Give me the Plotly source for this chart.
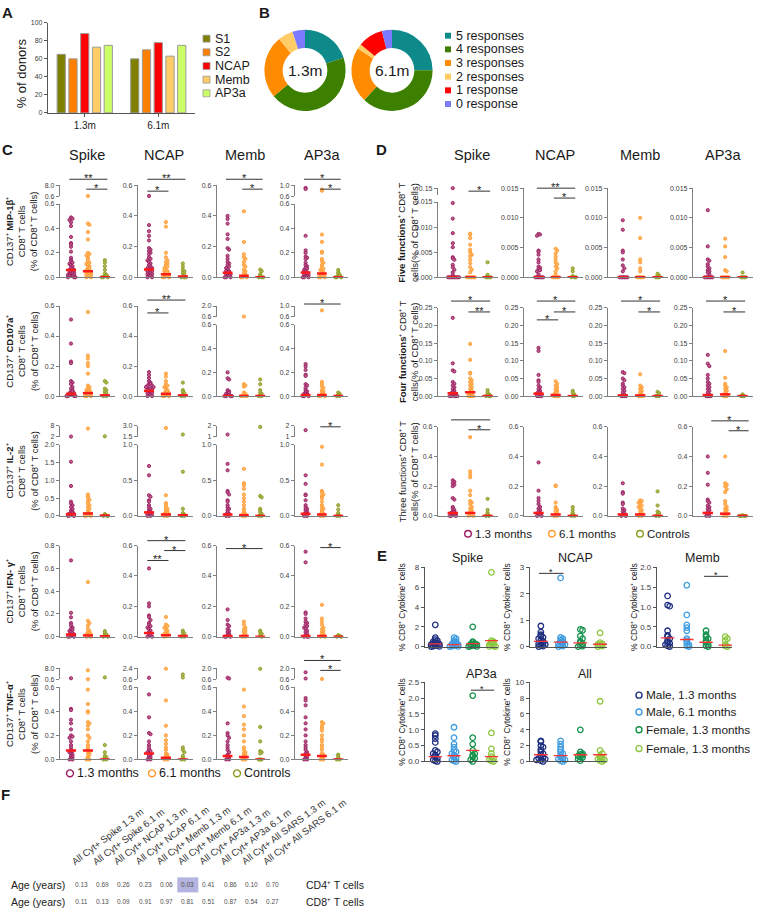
import plotly.graph_objects as go

W, H = 763, 915
FONT = "Liberation Sans, Arial, Helvetica, sans-serif"


def fx(p):
    return p / W


def fy(p):
    return 1 - p / H

# ======================= DATA =======================
# ---- Panel A: % of donors responding ----
A_TIMEPOINTS = ["1.3m", "6.1m"]
A_SERIES = ["S1", "S2", "NCAP", "Memb", "AP3a"]
A_S1 = [65, 60]
A_S2 = [60, 70]
A_NCAP = [88, 78]
A_MEMB = [73, 63]
A_AP3A = [75, 75]
A_COLORS = ["#808000", "#ff8000", "#ff0000", "#ffcc66", "#ccff66"]

# ---- Panel B: number of responses ----
B_LABELS = ["5 responses", "4 responses", "3 responses", "2 responses", "1 response", "0 response"]
B_13M = [20, 44, 25, 6, 0, 5]
B_61M = [25, 37, 22, 2, 10, 4]
B_COLORS = ["#0e8a8a", "#3d8000", "#ff8c00", "#ffcc66", "#ff0000", "#7b7bff"]
B_NAMES = ["1.3m", "6.1m"]

# ---- Panel C ----
C_ANTIGENS = ["Spike", "NCAP", "Memb", "AP3a"]
C_GROUPS = ["1.3 months", "6.1 months", "Controls"]
C_COLORS = ["#9b1b5e", "#ff9a2e", "#8c9a1c"]
C_ROW_TITLES = [
    "CD137⁺ <b>MIP-1β</b>⁺<br>CD8⁺ T cells<br>(% of CD8⁺ T cells)",
    "CD137⁺ <b>CD107a</b>⁺<br>CD8⁺ T cells<br>(% of CD8⁺ T cells)",
    "CD137⁺ <b>IL-2</b>⁺<br>CD8⁺ T cells<br>(% of CD8⁺ T cells)",
    "CD137⁺ <b>IFN- γ</b>⁺<br>CD8⁺ T cells<br>(% of CD8⁺ T cells)",
    "CD137⁺ <b>TNF-α</b>⁺<br>CD8⁺ T cells<br>(% of CD8⁺ T cells)",
]

# Row 1: MIP-1b
C1_SPIKE = [[0.49, 0.48, 0.47, 0.45, 0.42, 0.33, 0.28, 0.27, 0.25, 0.21, 0.16, 0.14, 0.13, 0.12, 0.11, 0.1, 0.09, 0.08, 0.07, 0.06, 0.06, 0.05, 0.05, 0.04, 0.04, 0.03, 0.03, 0.02, 0.02, 0.02, 0.01, 0.01, 0.01, 0.0, 0.0, 0.0],
            [0.7, 0.44, 0.43, 0.37, 0.31, 0.2, 0.19, 0.18, 0.16, 0.15, 0.13, 0.12, 0.11, 0.1, 0.09, 0.08, 0.07, 0.06, 0.05, 0.05, 0.04, 0.04, 0.03, 0.03, 0.02, 0.02, 0.01, 0.01, 0.0, 0.0],
            [0.14, 0.12, 0.09, 0.06, 0.03, 0.02, 0.01, 0.01, 0.0, 0.0, 0.0]]
C1_NCAP = [[0.53, 0.34, 0.3, 0.27, 0.24, 0.19, 0.18, 0.17, 0.16, 0.15, 0.13, 0.12, 0.11, 0.1, 0.09, 0.08, 0.07, 0.06, 0.06, 0.05, 0.05, 0.04, 0.04, 0.03, 0.03, 0.02, 0.02, 0.01, 0.01, 0.0, 0.0],
           [0.36, 0.33, 0.16, 0.13, 0.11, 0.1, 0.09, 0.08, 0.07, 0.06, 0.05, 0.04, 0.04, 0.03, 0.03, 0.02, 0.02, 0.01, 0.01, 0.0, 0.0, 0.0],
           [0.09, 0.07, 0.05, 0.04, 0.03, 0.02, 0.01, 0.0, 0.0, 0.0]]
C1_MEMB = [[0.4, 0.38, 0.35, 0.28, 0.25, 0.19, 0.18, 0.14, 0.12, 0.1, 0.09, 0.08, 0.07, 0.06, 0.05, 0.04, 0.04, 0.03, 0.03, 0.02, 0.02, 0.01, 0.01, 0.0, 0.0, 0.0],
           [0.43, 0.23, 0.15, 0.13, 0.12, 0.1, 0.08, 0.07, 0.05, 0.04, 0.03, 0.02, 0.01, 0.01, 0.0, 0.0, 0.0],
           [0.05, 0.04, 0.02, 0.01, 0.0, 0.0, 0.0]]
C1_AP3A = [[0.9, 0.86, 0.34, 0.22, 0.2, 0.17, 0.16, 0.15, 0.12, 0.1, 0.09, 0.08, 0.07, 0.06, 0.05, 0.04, 0.04, 0.03, 0.03, 0.02, 0.02, 0.01, 0.01, 0.0, 0.0, 0.0],
           [0.84, 0.8, 0.35, 0.29, 0.21, 0.2, 0.15, 0.13, 0.12, 0.1, 0.08, 0.07, 0.06, 0.05, 0.04, 0.03, 0.02, 0.02, 0.01, 0.01, 0.0, 0.0, 0.0],
           [0.06, 0.04, 0.03, 0.02, 0.01, 0.01, 0.0, 0.0, 0.0]]
C1_MED = [[0.06, 0.05, 0.0], [0.05, 0.02, 0.005], [0.03, 0.01, 0.0], [0.04, 0.03, 0.0]]

# Row 2: CD107a
C2_SPIKE = [[0.51, 0.35, 0.23, 0.22, 0.1, 0.09, 0.08, 0.06, 0.05, 0.04, 0.03, 0.03, 0.02, 0.02, 0.01, 0.01, 0.01, 0.0, 0.0, 0.0, 0.0],
            [0.56, 0.27, 0.25, 0.22, 0.2, 0.15, 0.07, 0.06, 0.05, 0.04, 0.04, 0.03, 0.03, 0.02, 0.02, 0.01, 0.01, 0.0, 0.0, 0.0],
            [0.1, 0.09, 0.05, 0.04, 0.03, 0.02, 0.01, 0.0, 0.0]]
C2_NCAP = [[0.16, 0.14, 0.12, 0.1, 0.09, 0.08, 0.08, 0.07, 0.07, 0.06, 0.06, 0.05, 0.05, 0.04, 0.04, 0.03, 0.03, 0.02, 0.02, 0.01, 0.01, 0.0, 0.0],
           [0.15, 0.13, 0.1, 0.08, 0.07, 0.06, 0.05, 0.04, 0.03, 0.03, 0.02, 0.02, 0.01, 0.01, 0.0, 0.0, 0.0],
           [0.09, 0.04, 0.03, 0.02, 0.01, 0.0, 0.0]]
C2_MEMB = [[0.2, 0.15, 0.14, 0.05, 0.04, 0.03, 0.03, 0.02, 0.01, 0.01, 0.0, 0.0, 0.0, 0.0],
           [0.65, 0.1, 0.09, 0.08, 0.03, 0.02, 0.01, 0.0, 0.0, 0.0, 0.0],
           [0.14, 0.1, 0.05, 0.03, 0.02, 0.01, 0.0, 0.0]]
C2_AP3A = [[0.27, 0.25, 0.22, 0.18, 0.17, 0.1, 0.09, 0.07, 0.05, 0.04, 0.03, 0.02, 0.02, 0.01, 0.01, 0.0, 0.0, 0.0],
           [0.84, 0.12, 0.1, 0.08, 0.07, 0.05, 0.04, 0.03, 0.02, 0.01, 0.01, 0.0, 0.0, 0.0],
           [0.03, 0.02, 0.01, 0.0, 0.0]]
C2_MED = [[0.015, 0.02, 0.005], [0.035, 0.015, 0.005], [0.0, 0.0, 0.0], [0.01, 0.01, 0.0]]

# Row 3: IL-2
C3_SPIKE = [[2.1, 1.52, 0.84, 0.4, 0.35, 0.3, 0.25, 0.2, 0.15, 0.12, 0.1, 0.08, 0.06, 0.05, 0.04, 0.03, 0.02, 0.01, 0.0, 0.0],
            [6.5, 0.6, 0.55, 0.5, 0.45, 0.4, 0.35, 0.3, 0.25, 0.2, 0.15, 0.1, 0.08, 0.05, 0.03, 0.02, 0.01, 0.0, 0.0],
            [2.2, 0.05, 0.03, 0.01, 0.0, 0.0]]
C3_NCAP = [[0.7, 0.57, 0.29, 0.27, 0.22, 0.2, 0.15, 0.12, 0.1, 0.08, 0.06, 0.05, 0.04, 0.03, 0.02, 0.01, 0.0, 0.0],
           [2.7, 0.29, 0.18, 0.15, 0.12, 0.1, 0.08, 0.06, 0.05, 0.04, 0.03, 0.02, 0.01, 0.0, 0.0],
           [1.8, 0.62, 0.1, 0.04, 0.02, 0.01, 0.0, 0.0]]
C3_MEMB = [[1.2, 0.73, 0.64, 0.35, 0.33, 0.3, 0.22, 0.2, 0.15, 0.12, 0.1, 0.08, 0.05, 0.03, 0.02, 0.01, 0.0, 0.0],
           [0.66, 0.46, 0.43, 0.38, 0.3, 0.25, 0.2, 0.15, 0.1, 0.08, 0.05, 0.03, 0.02, 0.01, 0.0, 0.0],
           [1.9, 0.28, 0.26, 0.1, 0.08, 0.05, 0.03, 0.01, 0.0, 0.0]]
C3_AP3A = [[1.6, 0.57, 0.45, 0.3, 0.29, 0.22, 0.15, 0.12, 0.1, 0.08, 0.06, 0.05, 0.03, 0.02, 0.01, 0.0, 0.0],
           [0.97, 0.72, 0.35, 0.33, 0.3, 0.28, 0.25, 0.2, 0.15, 0.12, 0.1, 0.08, 0.05, 0.03, 0.02, 0.01, 0.0, 0.0],
           [0.15, 0.09, 0.04, 0.01, 0.0, 0.0]]
C3_MED = [[0.05, 0.07, 0.01], [0.05, 0.02, 0.01], [0.02, 0.01, 0.0], [0.03, 0.02, 0.0]]

# Row 4: IFN-g
C4_SPIKE = [[0.67, 0.21, 0.17, 0.12, 0.1, 0.08, 0.07, 0.06, 0.05, 0.04, 0.03, 0.02, 0.02, 0.01, 0.01, 0.0, 0.0, 0.0],
            [0.48, 0.14, 0.12, 0.1, 0.07, 0.05, 0.04, 0.03, 0.02, 0.02, 0.01, 0.01, 0.0, 0.0],
            [0.05, 0.03, 0.02, 0.01, 0.01, 0.0, 0.0]]
C4_NCAP = [[0.45, 0.22, 0.2, 0.14, 0.13, 0.11, 0.09, 0.08, 0.07, 0.06, 0.05, 0.04, 0.03, 0.02, 0.01, 0.01, 0.0, 0.0],
           [0.13, 0.08, 0.07, 0.06, 0.05, 0.04, 0.03, 0.02, 0.02, 0.01, 0.01, 0.0],
           [0.04, 0.03, 0.02, 0.01, 0.0, 0.0]]
C4_MEMB = [[0.18, 0.11, 0.08, 0.07, 0.05, 0.04, 0.03, 0.02, 0.01, 0.01, 0.0, 0.0, 0.0],
           [0.1, 0.08, 0.06, 0.05, 0.04, 0.03, 0.02, 0.01, 0.0, 0.0],
           [0.04, 0.03, 0.02, 0.01, 0.0]]
C4_AP3A = [[0.56, 0.49, 0.16, 0.15, 0.12, 0.1, 0.09, 0.08, 0.07, 0.06, 0.05, 0.04, 0.03, 0.02, 0.01, 0.0, 0.0, 0.0],
           [0.21, 0.12, 0.1, 0.08, 0.06, 0.05, 0.04, 0.03, 0.02, 0.01, 0.01, 0.0, 0.0],
           [0.01, 0.005, 0.0, 0.0]]
C4_MED = [[0.02, 0.01, 0.005], [0.025, 0.01, 0.005], [0.005, 0.005, 0.0], [0.005, 0.005, 0.0]]

# Row 5: TNF-a
C5_SPIKE = [[1.3, 0.42, 0.41, 0.33, 0.3, 0.25, 0.2, 0.19, 0.18, 0.15, 0.12, 0.1, 0.08, 0.07, 0.06, 0.05, 0.04, 0.03, 0.02, 0.01, 0.0, 0.0],
            [6.7, 0.65, 0.58, 0.46, 0.4, 0.39, 0.31, 0.3, 0.28, 0.25, 0.2, 0.18, 0.15, 0.12, 0.1, 0.08, 0.06, 0.05, 0.04, 0.02, 0.01, 0.0, 0.0],
            [1.9, 0.12, 0.06, 0.03, 0.02, 0.01, 0.0, 0.0]]
C5_NCAP = [[0.85, 0.54, 0.35, 0.22, 0.21, 0.15, 0.12, 0.1, 0.08, 0.07, 0.06, 0.05, 0.04, 0.03, 0.02, 0.01, 0.0, 0.0],
           [2.35, 0.49, 0.28, 0.2, 0.16, 0.13, 0.1, 0.08, 0.05, 0.04, 0.03, 0.02, 0.01, 0.0, 0.0],
           [1.4, 0.9, 0.1, 0.08, 0.06, 0.03, 0.01, 0.0, 0.0]]
C5_MEMB = [[0.8, 0.7, 0.3, 0.22, 0.2, 0.18, 0.15, 0.12, 0.1, 0.08, 0.06, 0.04, 0.03, 0.02, 0.01, 0.0, 0.0],
           [0.58, 0.44, 0.36, 0.29, 0.25, 0.2, 0.15, 0.1, 0.08, 0.06, 0.05, 0.04, 0.03, 0.02, 0.01, 0.0, 0.0],
           [1.95, 0.27, 0.15, 0.07, 0.06, 0.05, 0.0, 0.0, 0.0]]
C5_AP3A = [[1.5, 0.7, 0.51, 0.49, 0.45, 0.35, 0.3, 0.25, 0.2, 0.15, 0.12, 0.1, 0.08, 0.06, 0.05, 0.04, 0.03, 0.02, 0.01, 0.0, 0.0],
           [0.65, 0.31, 0.3, 0.28, 0.26, 0.24, 0.2, 0.17, 0.15, 0.12, 0.1, 0.08, 0.05, 0.04, 0.03, 0.02, 0.01, 0.0, 0.0],
           [0.04, 0.03, 0.01, 0.0, 0.0]]
C5_MED = [[0.075, 0.075, 0.0], [0.05, 0.015, 0.0], [0.03, 0.02, 0.0], [0.04, 0.03, 0.0]]

# ---- Panel D ----
D_ROW_TITLES = [
    "<b>Five functions</b>⁺ CD8⁺ T<br>cells(% of CD8⁺ T cells)",
    "<b>Four functions</b>⁺ CD8⁺ T<br>cells(% of CD8⁺ T cells)",
    "Three functions⁺ CD8⁺ T<br>cells(% of CD8⁺ T cells)",
]
D1_SPIKE = [[0.15, 0.0148, 0.0117, 0.0088, 0.0068, 0.006, 0.004, 0.0038, 0.0035, 0.0025, 0.002, 0.0015, 0.001, 0.0005, 0.0, 0.0, 0.0, 0.0, 0.0, 0.0, 0.0, 0.0],
            [0.0087, 0.0085, 0.0078, 0.0065, 0.0055, 0.005, 0.0045, 0.0042, 0.0035, 0.0028, 0.002, 0.0015, 0.001, 0.0, 0.0, 0.0, 0.0, 0.0, 0.0],
            [0.003, 0.0005, 0.0, 0.0, 0.0, 0.0]]
D1_NCAP = [[0.0073, 0.0072, 0.007, 0.0045, 0.0043, 0.0038, 0.003, 0.0025, 0.0018, 0.0016, 0.0014, 0.0012, 0.001, 0.0005, 0.0, 0.0, 0.0, 0.0, 0.0, 0.0],
           [0.0048, 0.0045, 0.004, 0.0035, 0.003, 0.0025, 0.0022, 0.0018, 0.0015, 0.001, 0.0005, 0.0, 0.0, 0.0, 0.0, 0.0],
           [0.0015, 0.001, 0.0002, 0.0, 0.0, 0.0]]
D1_MEMB = [[0.0096, 0.008, 0.0045, 0.0042, 0.003, 0.002, 0.0015, 0.001, 0.0, 0.0, 0.0, 0.0, 0.0, 0.0],
           [0.01, 0.0066, 0.003, 0.0025, 0.0015, 0.001, 0.0, 0.0, 0.0, 0.0, 0.0],
           [0.0006, 0.0003, 0.0, 0.0, 0.0]]
D1_AP3A = [[0.0113, 0.0052, 0.003, 0.0028, 0.0022, 0.0018, 0.0015, 0.0012, 0.001, 0.0008, 0.0005, 0.0, 0.0, 0.0, 0.0, 0.0, 0.0],
           [0.0065, 0.0052, 0.0034, 0.0012, 0.001, 0.0, 0.0, 0.0, 0.0, 0.0],
           [0.0008, 0.0, 0.0, 0.0, 0.0]]
D1_MED = [[0.0, 0.0, 0.0], [0.0, 0.0, 0.0], [0.0, 0.0, 0.0], [0.0, 0.0, 0.0]]

D2_SPIKE = [[0.222, 0.093, 0.073, 0.07, 0.04, 0.035, 0.03, 0.025, 0.02, 0.015, 0.012, 0.01, 0.008, 0.005, 0.003, 0.0, 0.0, 0.0, 0.0, 0.0],
            [0.148, 0.103, 0.066, 0.064, 0.05, 0.045, 0.04, 0.035, 0.03, 0.025, 0.02, 0.015, 0.01, 0.008, 0.005, 0.0, 0.0, 0.0, 0.0],
            [0.017, 0.01, 0.005, 0.002, 0.0, 0.0, 0.0]]
D2_NCAP = [[0.137, 0.128, 0.06, 0.045, 0.04, 0.03, 0.025, 0.02, 0.015, 0.012, 0.01, 0.008, 0.005, 0.0, 0.0, 0.0, 0.0],
           [0.042, 0.035, 0.03, 0.025, 0.02, 0.015, 0.012, 0.01, 0.005, 0.0, 0.0, 0.0, 0.0],
           [0.015, 0.01, 0.005, 0.0, 0.0]]
D2_MEMB = [[0.068, 0.065, 0.05, 0.045, 0.035, 0.03, 0.025, 0.02, 0.015, 0.01, 0.005, 0.0, 0.0, 0.0, 0.0],
           [0.062, 0.03, 0.025, 0.02, 0.015, 0.01, 0.005, 0.0, 0.0, 0.0, 0.0],
           [0.012, 0.008, 0.0, 0.0, 0.0]]
D2_AP3A = [[0.117, 0.092, 0.085, 0.06, 0.05, 0.04, 0.035, 0.03, 0.025, 0.02, 0.015, 0.01, 0.005, 0.0, 0.0, 0.0, 0.0],
           [0.128, 0.052, 0.035, 0.03, 0.025, 0.02, 0.015, 0.01, 0.005, 0.0, 0.0, 0.0],
           [0.005, 0.0, 0.0, 0.0]]
D2_MED = [[0.008, 0.011, 0.0], [0.007, 0.003, 0.0], [0.002, 0.002, 0.0], [0.003, 0.005, 0.0]]

D3_SPIKE = [[0.24, 0.23, 0.22, 0.21, 0.2, 0.12, 0.11, 0.06, 0.05, 0.04, 0.03, 0.025, 0.02, 0.015, 0.01, 0.005, 0.0, 0.0, 0.0],
            [0.53, 0.3, 0.28, 0.26, 0.17, 0.14, 0.1, 0.09, 0.08, 0.06, 0.05, 0.04, 0.03, 0.02, 0.01, 0.005, 0.0, 0.0],
            [0.115, 0.04, 0.02, 0.01, 0.0, 0.0]]
D3_NCAP = [[0.36, 0.17, 0.12, 0.1, 0.08, 0.06, 0.05, 0.04, 0.03, 0.02, 0.01, 0.005, 0.0, 0.0],
           [0.205, 0.2, 0.09, 0.06, 0.05, 0.04, 0.03, 0.02, 0.01, 0.0, 0.0],
           [0.06, 0.04, 0.02, 0.01, 0.0, 0.0]]
D3_MEMB = [[0.22, 0.16, 0.15, 0.09, 0.08, 0.05, 0.04, 0.03, 0.02, 0.01, 0.005, 0.0, 0.0],
           [0.105, 0.1, 0.09, 0.08, 0.07, 0.06, 0.05, 0.04, 0.03, 0.02, 0.01, 0.0, 0.0],
           [0.165, 0.07, 0.03, 0.02, 0.01, 0.0, 0.0]]
D3_AP3A = [[0.4, 0.29, 0.21, 0.11, 0.1, 0.09, 0.07, 0.06, 0.05, 0.04, 0.03, 0.02, 0.01, 0.0, 0.0],
           [0.4, 0.22, 0.21, 0.2, 0.18, 0.16, 0.1, 0.08, 0.06, 0.05, 0.04, 0.03, 0.02, 0.01, 0.0, 0.0],
           [0.005, 0.0, 0.0, 0.0, 0.0]]
D3_MED = [[0.02, 0.02, 0.0], [0.02, 0.01, 0.0], [0.01, 0.01, 0.0], [0.02, 0.015, 0.0]]

# ---- Panel E ----
E_GROUPS = ["Male, 1.3 months", "Male, 6.1 months", "Female, 1.3 months", "Female, 1.3 months"]
E_COLORS = ["#1f2f80", "#3f9ce0", "#14914c", "#8cc63f"]
E_SPIKE = [[2.2, 0.9, 0.7, 0.6, 0.5, 0.4, 0.35, 0.3, 0.25, 0.2, 0.15, 0.1, 0.05, 0.02, 0.0],
           [0.9, 0.8, 0.6, 0.5, 0.4, 0.3, 0.25, 0.2, 0.15, 0.1, 0.05, 0.02, 0.0],
           [2.0, 0.5, 0.4, 0.3, 0.25, 0.2, 0.15, 0.1, 0.05, 0.02, 0.0],
           [7.5, 0.6, 0.5, 0.4, 0.3, 0.2, 0.1, 0.05, 0.02, 0.0]]
E_SPIKE_MEAN = [0.28, 0.2, 0.3, 0.6]
E_NCAP = [[0.78, 0.55, 0.45, 0.4, 0.35, 0.3, 0.25, 0.2, 0.15, 0.12, 0.1, 0.08, 0.05, 0.02, 0.0],
          [2.6, 0.35, 0.3, 0.25, 0.2, 0.15, 0.12, 0.1, 0.08, 0.05, 0.02, 0.0],
          [0.65, 0.62, 0.4, 0.3, 0.2, 0.15, 0.1, 0.05, 0.02, 0.0],
          [0.52, 0.15, 0.1, 0.08, 0.05, 0.02, 0.0]]
E_NCAP_MEAN = [0.2, 0.17, 0.14, 0.09]
E_MEMB = [[1.28, 1.05, 1.02, 0.4, 0.28, 0.25, 0.2, 0.15, 0.1, 0.08, 0.05, 0.02, 0.0],
          [1.55, 0.8, 0.55, 0.48, 0.4, 0.2, 0.15, 0.1, 0.05, 0.02, 0.0],
          [0.4, 0.3, 0.25, 0.2, 0.15, 0.1, 0.05, 0.02, 0.0],
          [0.25, 0.2, 0.15, 0.05, 0.02, 0.0]]
E_MEMB_MEAN = [0.22, 0.18, 0.11, 0.04]
E_AP3A = [[0.88, 0.82, 0.72, 0.6, 0.35, 0.3, 0.25, 0.2, 0.15, 0.1, 0.05, 0.02, 0.0],
          [1.08, 0.75, 0.55, 0.45, 0.35, 0.3, 0.25, 0.2, 0.15, 0.1, 0.05, 0.02, 0.0],
          [2.08, 0.75, 0.55, 0.35, 0.25, 0.2, 0.15, 0.1, 0.05, 0.0],
          [0.9, 0.4, 0.25, 0.15, 0.1, 0.05, 0.02, 0.0]]
E_AP3A_MEAN = [0.15, 0.18, 0.35, 0.15]
E_ALL = [[2.6, 2.5, 2.0, 1.8, 1.5, 1.2, 1.0, 0.8, 0.6, 0.5, 0.4, 0.3, 0.2, 0.1, 0.0],
         [2.6, 2.2, 1.8, 1.5, 1.2, 1.0, 0.8, 0.6, 0.4, 0.3, 0.2, 0.1, 0.0],
         [4.0, 1.2, 1.0, 0.9, 0.8, 0.7, 0.6, 0.5, 0.3, 0.1],
         [7.6, 1.4, 1.0, 0.7, 0.5, 0.4, 0.3, 0.2, 0.1, 0.0]]
E_ALL_MEAN = [0.85, 0.75, 0.85, 0.85]

# ---- Panel F ----
F_COLUMNS = ["All Cyt+ Spike 1.3 m", "All Cyt+ Spike 6.1 m", "All Cyt+ NCAP 1.3 m", "All Cyt+ NCAP 6.1 m",
             "All Cyt+ Memb 1.3 m", "All Cyt+ Memb 6.1 m", "All Cyt+ AP3a 1.3 m", "All Cyt+ AP3a 6.1 m",
             "All Cyt+ All SARS 1.3 m", "All Cyt+ All SARS 6.1 m"]
F_CD4 = [0.13, 0.69, 0.26, 0.23, 0.06, 0.03, 0.41, 0.86, 0.10, 0.70]
F_CD8 = [0.11, 0.13, 0.09, 0.91, 0.97, 0.81, 0.51, 0.87, 0.54, 0.27]
F_ROWS = ["CD4⁺ T cells", "CD8⁺ T cells"]

# ======================= BUILD =======================
traces = []
shapes = []
annots = []
axes = {}
AXN = [0]


def ann(text, x, y, size=10, xanchor="center", yanchor="middle", color="#1a1a1a", angle=0, xref="paper",
        yref="paper", xshift=0, align="center"):
    annots.append(dict(text=text, x=x, y=y, xref=xref, yref=yref, showarrow=False, xanchor=xanchor,
                       yanchor=yanchor, textangle=angle, font=dict(size=size, color=color, family=FONT),
                       xshift=xshift, align=align, borderpad=0))


def make_axes(x0, x1, y0, y1, xrange, yrange, tickvals, fmt, xline=True, tick_size=7, lc="#808080", lw=1.3):
    AXN[0] += 1
    n = AXN[0]
    xk = "xaxis" if n == 1 else "xaxis%d" % n
    yk = "yaxis" if n == 1 else "yaxis%d" % n
    xr = "x" if n == 1 else "x%d" % n
    yr = "y" if n == 1 else "y%d" % n
    axes[xk] = dict(domain=[fx(x0), fx(x1)], range=xrange, anchor=yr, showgrid=False, zeroline=False,
                    showticklabels=False, ticks="", showline=xline, linecolor=lc, linewidth=lw)
    axes[yk] = dict(domain=[fy(y1), fy(y0)], range=yrange, anchor=xr, showgrid=False, zeroline=False,
                    showline=True, linecolor=lc, linewidth=lw, ticks="outside", ticklen=3, tickwidth=1,
                    tickcolor=lc, tickvals=tickvals, tickformat=fmt,
                    tickfont=dict(size=tick_size, color="#404040", family=FONT))
    return xr, yr, xk, yk


def spread(vals, bin_h, step, maxoff):
    counts = {}
    out = []
    for v in vals:
        b = int(v / bin_h + 0.5)
        k = counts.get(b, 0)
        counts[b] = k + 1
        m = (k + 1) // 2
        o = m * step * (1 if k % 2 == 1 else -1)
        if abs(o) > maxoff:
            o = ((k * 0.618) % 1.0) * 2 * maxoff - maxoff
        out.append(o)
    return out


def tint(hexc, f):
    r, g, b = int(hexc[1:3], 16), int(hexc[3:5], 16), int(hexc[5:7], 16)
    r, g, b = [int(c + (255 - c) * f) for c in (r, g, b)]
    return "rgb(%d,%d,%d)" % (r, g, b)


def dot_panel(xpx, top, base, xrange, ymax, step, fmt, groups, centers, colors, brk=None, sig=(),
              style="filled", up_h=11, gap=8, tick_size=7, lc="#808080", med_color="#ff1a1a",
              med_w=2.5, med_half=0.3, msize=3.2, smax=0.36, sstep=0.09, star_size=11):
    x0, x1 = xpx
    lo_top = top + up_h + gap if brk else top
    ticks = [round(i * step, 6) for i in range(int(round(ymax / step)) + 1)]
    xr, yr, xk, yk = make_axes(x0, x1, lo_top, base, xrange, [0, ymax], ticks, fmt, tick_size=tick_size, lc=lc)
    uxr = uyr = None
    if brk:
        lo, hi, ufmt, utv = brk
        uxr, uyr, uxk, uyk = make_axes(x0, x1, top, top + up_h, xrange, [lo, hi], utv, ufmt, xline=False,
                                       tick_size=tick_size, lc=lc)
        axes[uxk]["visible"] = False
    for gi, vals in enumerate(groups):
        col = colors[gi]
        if style == "filled":
            mk = dict(size=msize, color=tint(col, 0.3), line=dict(color=col, width=0.9))
        else:
            mk = dict(size=msize, symbol="circle-open", color=col, line=dict(width=1.3))
        low = [v for v in vals if v <= ymax or not brk]
        offs = spread(low, ymax / 25.0, sstep, smax)
        traces.append(go.Scatter(x=[gi + o for o in offs], y=low, xaxis=xr, yaxis=yr, mode="markers",
                                 marker=mk, cliponaxis=False, showlegend=False, hoverinfo="skip"))
        if brk:
            up = [v for v in vals if v > ymax]
            if up:
                uo = spread(up, (brk[1] - brk[0]) / 6.0, sstep, smax)
                traces.append(go.Scatter(x=[gi + o for o in uo], y=up, xaxis=uxr, yaxis=uyr, mode="markers",
                                         marker=mk, cliponaxis=False, showlegend=False, hoverinfo="skip"))
    for gi, m in enumerate(centers):
        traces.append(go.Scatter(x=[gi - med_half, gi + med_half], y=[m, m], xaxis=xr, yaxis=yr, mode="lines",
                                 line=dict(color=med_color, width=med_w), cliponaxis=False, showlegend=False,
                                 hoverinfo="skip"))
    for (a, b, lab, ypx) in sig:
        shapes.append(dict(type="line", xref=xr, yref="paper", x0=a - 0.1, x1=b + 0.15, y0=fy(ypx), y1=fy(ypx),
                           line=dict(color="#333333", width=1)))
        if lab:
            ann(lab, (a + b) / 2 + 0.02, fy(ypx - 1), size=star_size, xref=xr, yanchor="middle", color="#222")
    return xr


# ---------------- Panel A ----------------
xr, yr, xk, yk = make_axes(48, 195, 19, 110, [-0.5, 1.5], [0, 100], [0, 20, 40, 60, 80, 100], "d",
                           tick_size=7, lc="#555555", lw=1.2)
axes[xk].update(type="category", showticklabels=True, ticks="outside", ticklen=3, tickcolor="#555555",
                tickfont=dict(size=10, color="#222", family=FONT))
A_VALUES = [A_S1, A_S2, A_NCAP, A_MEMB, A_AP3A]
for name, vals, col in zip(A_SERIES, A_VALUES, A_COLORS):
    traces.append(go.Bar(x=A_TIMEPOINTS, y=vals, name=name, xaxis=xr, yaxis=yr,
                         marker=dict(color=col, line=dict(color="#9a9a9a", width=1)), showlegend=False,
                         hoverinfo="skip"))
ann("% of donors", fx(21), fy(70), size=13, angle=-90)
for i, (name, col) in enumerate(zip(A_SERIES, A_COLORS)):
    cy = 35 + i * 13.8
    shapes.append(dict(type="rect", xref="paper", yref="paper", x0=fx(203), x1=fx(210), y0=fy(cy + 3.5),
                       y1=fy(cy - 3.5), fillcolor=col, line=dict(color="#9a9a9a", width=0.8)))
    ann(name, fx(214), fy(cy), size=12.5, xanchor="left")

# ---------------- Panel B ----------------
for vals, name, cx in zip([B_13M, B_61M], B_NAMES, [305, 392]):
    traces.append(go.Pie(values=vals, labels=B_LABELS, marker=dict(colors=B_COLORS, line=dict(width=0)),
                         hole=0.55, sort=False, direction="clockwise", rotation=0, textinfo="none",
                         domain=dict(x=[fx(cx - 41), fx(cx + 41)], y=[fy(67 + 41), fy(67 - 41)]),
                         showlegend=False, hoverinfo="skip"))
    ann(name, fx(cx), fy(67), size=15.5)
for i, (lab, col) in enumerate(zip(B_LABELS, B_COLORS)):
    cy = 32 + i * 13.8
    shapes.append(dict(type="rect", xref="paper", yref="paper", x0=fx(445), x1=fx(451), y0=fy(cy + 3),
                       y1=fy(cy - 3), fillcolor=col, line=dict(width=0)))
    ann(lab, fx(455), fy(cy), size=12.5, xanchor="left")

# ---------------- Panel C ----------------
C_XPX = [(60, 115), (138, 193), (217, 270), (295, 348)]
C_TOPS = [183, 305, 426, 547, 671]
C_BASES = [276, 396, 517, 639, 763]
C_XRANGE = [-0.65, 2.6]
C_DATA = [
    [C1_SPIKE, C1_NCAP, C1_MEMB, C1_AP3A],
    [C2_SPIKE, C2_NCAP, C2_MEMB, C2_AP3A],
    [C3_SPIKE, C3_NCAP, C3_MEMB, C3_AP3A],
    [C4_SPIKE, C4_NCAP, C4_MEMB, C4_AP3A],
    [C5_SPIKE, C5_NCAP, C5_MEMB, C5_AP3A],
]
C_MEDS = [C1_MED, C2_MED, C3_MED, C4_MED, C5_MED]
# (lower max, tick step, format, break)
C_AXES = [
    [(0.6, 0.2, ".1f", (0.6, 8.0, ".1f", [0.6, 8.0])), (0.6, 0.2, ".1f", None), (0.6, 0.2, ".1f", None),
     (0.6, 0.2, ".1f", (0.6, 1.0, ".1f", [0.6, 1.0]))],
    [(0.6, 0.2, ".1f", None), (0.6, 0.2, ".1f", None), (0.6, 0.2, ".1f", (0.6, 2.0, ".1f", [0.6, 2.0])),
     (0.6, 0.2, ".1f", (0.6, 1.0, ".1f", [0.6, 1.0]))],
    [(2.0, 0.5, ".1f", (2, 8, "d", [2, 8])), (1.0, 0.5, ".1f", (1.5, 3.0, ".1f", [1.5, 3.0])),
     (1.0, 0.5, ".1f", (1, 2, "d", [1, 2])), (1.0, 0.5, ".1f", (1, 2, "d", [1, 2]))],
    [(0.8, 0.2, ".1f", None), (0.6, 0.2, ".1f", None), (0.6, 0.2, ".1f", None), (0.6, 0.2, ".1f", None)],
    [(0.6, 0.2, ".1f", (0.6, 8.0, ".1f", [0.6, 8.0])), (0.6, 0.2, ".1f", (0.6, 2.4, ".1f", [0.6, 2.4])),
     (0.6, 0.2, ".1f", (0.6, 2.0, ".1f", [0.6, 2.0])), (0.6, 0.2, ".1f", (0.6, 2.0, ".1f", [0.6, 2.0]))],
]
C_SIG = [
    [[(0, 2, "**", 177), (1, 2, "*", 187)], [(0, 2, "**", 177), (0, 1, "*", 189)],
     [(0, 2, "*", 177), (1, 2, "*", 187)], [(0, 2, "*", 177), (1, 2, "*", 187)]],
    [[], [(0, 2, "**", 299), (0, 1, "*", 312)], [], [(0, 2, "*", 303)]],
    [[], [], [], [(1, 2, "*", 427)]],
    [[], [(0, 2, "*", 542), (1, 2, "*", 552), (0, 1, "**", 562)], [(0, 2, "*", 550)], [(1, 2, "*", 549)]],
    [[], [], [], [(0, 2, "*", 663), (1, 2, "*", 673)]],
]
for r in range(5):
    for c in range(4):
        ymax, stp, fmt, brk = C_AXES[r][c]
        dot_panel(C_XPX[c], C_TOPS[r], C_BASES[r], C_XRANGE, ymax, stp, fmt, C_DATA[r][c], C_MEDS[r][c],
                  C_COLORS, brk=brk, sig=C_SIG[r][c])
    ann(C_ROW_TITLES[r], fx(22), fy((C_TOPS[r] + C_BASES[r]) / 2), size=9.5, angle=-90)
for c, (name, xc) in enumerate(zip(C_ANTIGENS, [87, 164, 245, 322])):
    ann(name, fx(xc), fy(153), size=14.5)
for i, (lab, col, cx) in enumerate(zip(C_GROUPS, C_COLORS, [70, 152, 237])):
    shapes.append(dict(type="circle", xref="paper", yref="paper", x0=fx(cx - 3.5), x1=fx(cx + 3.5),
                       y0=fy(777 + 3.5), y1=fy(777 - 3.5), line=dict(color=col, width=1.4)))
    ann(lab, fx(cx + 6), fy(777), size=12.5, xanchor="left")

# ---------------- Panel D ----------------
D_XPX = [(438, 498), (524, 583), (608, 668), (693, 753)]
D_TOPS = [186, 307, 427]
D_BASES = [276, 396, 517]
D_XRANGE = [-0.85, 2.6]
D_DATA = [
    [D1_SPIKE, D1_NCAP, D1_MEMB, D1_AP3A],
    [D2_SPIKE, D2_NCAP, D2_MEMB, D2_AP3A],
    [D3_SPIKE, D3_NCAP, D3_MEMB, D3_AP3A],
]
D_MEDS = [D1_MED, D2_MED, D3_MED]
D_AXES = [
    [(0.015, 0.005, ".3f", (0.13, 0.15, ".2f", [0.15])), (0.015, 0.005, ".3f", None),
     (0.015, 0.005, ".3f", None), (0.015, 0.005, ".3f", None)],
    [(0.25, 0.05, ".2f", None)] * 4,
    [(0.6, 0.2, ".1f", None)] * 4,
]
D_SIG = [
    [[(1, 2, "*", 189)], [(0, 2, "**", 186), (1, 2, "*", 196)], [], []],
    [[(0, 2, "*", 300), (1, 2, "**", 311)], [(0, 2, "*", 300), (1, 2, "*", 311), (0, 1, "*", 319)],
     [(0, 2, "*", 300), (1, 2, "*", 311)], [(0, 2, "*", 300), (1, 2, "*", 311)]],
    [[(0, 2, "", 420), (1, 2, "*", 430)], [], [], [(0.3, 2.2, "*", 421), (1.3, 2.2, "*", 431)]],
]
for r in range(3):
    for c in range(4):
        ymax, stp, fmt, brk = D_AXES[r][c]
        kw = {}
        if brk and r == 0 and c == 0:
            kw = dict(up_h=7, gap=7)
        dot_panel(D_XPX[c], D_TOPS[r], D_BASES[r], D_XRANGE, ymax, stp, fmt, D_DATA[r][c], D_MEDS[r][c],
                  C_COLORS, brk=brk, sig=D_SIG[r][c], **kw)
    ann(D_ROW_TITLES[r], fx(408), fy((D_TOPS[r] + D_BASES[r]) / 2), size=9.5, angle=-90)
for name, xc in zip(C_ANTIGENS, [472, 555, 640, 723]):
    ann(name, fx(xc), fy(153), size=14.5)
for lab, col, cx in zip(C_GROUPS, C_COLORS, [468, 552, 640]):
    shapes.append(dict(type="circle", xref="paper", yref="paper", x0=fx(cx - 3.3), x1=fx(cx + 3.3),
                       y0=fy(535 + 3.3), y1=fy(535 - 3.3), line=dict(color=col, width=1.4)))
    ann(lab, fx(cx + 6), fy(535), size=11.5, xanchor="left")

# ---------------- Panel E ----------------
E_PANELS = [
    ("Spike", E_SPIKE, E_SPIKE_MEAN, (425, 498), 569, 649, 8, 2, "d", [], 468, 560),
    ("NCAP", E_NCAP, E_NCAP_MEAN, (530, 607), 569, 649, 3, 1, "d", [(0, 1, "*", 575)], 575, 560),
    ("Memb", E_MEMB, E_MEMB_MEAN, (657, 732), 569, 649, 2.0, 0.5, ".1f", [(2, 3, "*", 578)], 702, 560),
    ("AP3a", E_AP3A, E_AP3A_MEAN, (425, 498), 685, 765, 2.5, 0.5, ".1f", [(2, 3, "*", 693)], 482, 677),
    ("All", E_ALL, E_ALL_MEAN, (530, 607), 685, 765, 10, 2, "d", [], 585, 677),
]
for (name, data, means, xpx, top, base, ymax, stp, fmt, sig, tx, ty) in E_PANELS:
    dot_panel(xpx, top, base, [-0.55, 3.35], ymax, stp, fmt, data, means, E_COLORS, sig=sig, style="open",
              tick_size=8, lc="#555555", med_color="#ff3333", med_w=1.3, med_half=0.35, msize=5.5,
              smax=0.33, sstep=0.11, star_size=9)
    ann(name, fx(tx), fy(ty), size=12.5)
    ann("% CD8⁺ Cytokine⁺ cells", fx(xpx[0] - 23), fy((top + base) / 2), size=8.5, angle=-90)
for i, (lab, col) in enumerate(zip(E_GROUPS, E_COLORS)):
    cy = [698, 715, 733, 752][i]
    shapes.append(dict(type="circle", xref="paper", yref="paper", x0=fx(636), x1=fx(642), y0=fy(cy + 3),
                       y1=fy(cy - 3), line=dict(color=col, width=1.4)))
    ann(lab, fx(645), fy(cy), size=11.8, xanchor="left")

# ---------------- Panel F ----------------
fxr, fyr, fxk, fyk = make_axes(70.3, 283.3, 881, 915, [-0.5, 9.5], [-0.5, 1.5], [], "", xline=False)
axes[fxk]["visible"] = False
axes[fyk]["visible"] = False
F_Z = [F_CD8, F_CD4]
traces.append(go.Heatmap(z=F_Z, x=list(range(len(F_COLUMNS))), y=[0, 1], xaxis=fxr, yaxis=fyr,
                         text=[["%.2f" % v for v in F_CD8], ["%.2f" % v for v in F_CD4]],
                         texttemplate="%{text}", textfont=dict(size=6.5, color="#505050", family=FONT),
                         zmin=0, zmax=1, showscale=False, xgap=0, ygap=2, hoverinfo="skip",
                         colorscale=[[0, "#b4b4e0"], [0.05, "#b4b4e0"], [0.0501, "rgba(255,255,255,0)"],
                                     [1, "rgba(255,255,255,0)"]]))
for i, lab in enumerate(F_COLUMNS):
    ann(lab, i, fy(873), size=9.6, xref=fxr, xanchor="left", yanchor="bottom", angle=-37, xshift=-13,
        color="#333")
for j, lab in enumerate(F_ROWS):
    cy = [889.5, 906.5][j]
    ann("Age (years)", fx(66), fy(cy), size=10.5, xanchor="right")
    ann(lab, fx(305), fy(cy), size=10.5, xanchor="left")

# ---------------- Panel letters ----------------
for letter, x, y in [("A", 1, 9), ("B", 258, 9), ("C", 1, 147), ("D", 375, 147), ("E", 376, 557), ("F", 0, 798)]:
    ann("<b>%s</b>" % letter, fx(x), fy(y), size=15, xanchor="left")

fig = go.Figure(data=traces)
fig.update_layout(width=W, height=H, margin=dict(l=0, r=0, t=0, b=0), autosize=False,
                  paper_bgcolor="white", plot_bgcolor="rgba(0,0,0,0)", showlegend=False,
                  barmode="group", bargap=0.2, bargroupgap=0.3,
                  font=dict(family=FONT, color="#1a1a1a"), annotations=annots, shapes=shapes, **axes)
fig.write_html("out.html", config={"displayModeBar": False},
               post_script="document.body.style.margin='0px';document.body.style.overflow='hidden';")
